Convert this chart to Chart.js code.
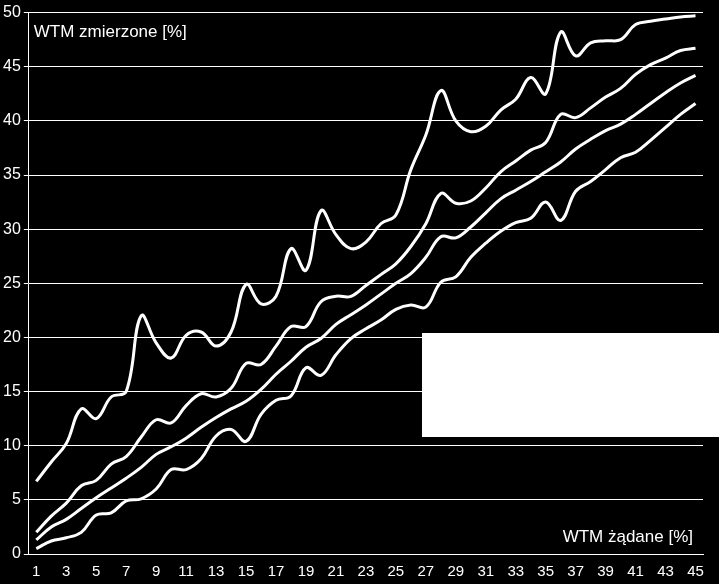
<!DOCTYPE html>
<html>
<head>
<meta charset="utf-8">
<script src="https://cdn.jsdelivr.net/npm/chart.js@4"></script>
<style>
  html, body { margin: 0; padding: 0; background: #000; }
  #wrap { width: 719px; height: 584px; }
</style>
</head>
<body>
<div id="wrap"><canvas id="chart"></canvas></div>
<script>
const categories = Array.from({ length: 45 }, (_, i) => String(i + 1));
const seriesTop = [6.7, 8.5, 10.2, 13.4, 12.5, 14.5, 15, 22, 19.5, 18.1, 20.2, 20.5, 19.2, 20.5, 24.9, 23.1, 23.8, 28.2, 26.2, 31.7, 29.5, 28.2, 28.8, 30.5, 31.3, 35.5, 38.7, 42.8, 40, 39, 39.5, 41, 42, 44, 42.5, 48.2, 46, 47.2, 47.4, 47.5, 48.9, 49.2, 49.4, 49.6, 49.7];
const seriesUpper = [2, 3.5, 4.7, 6.3, 6.8, 8.3, 9, 10.8, 12.4, 12.1, 13.7, 14.8, 14.5, 15.3, 17.6, 17.5, 19.2, 21, 21, 23.3, 23.8, 23.8, 24.8, 25.8, 26.8, 28.4, 30.5, 33.3, 32.4, 32.6, 33.8, 35.3, 36.3, 37.3, 38, 40.6, 40.3, 41.2, 42.2, 43, 44.3, 45.2, 45.8, 46.5, 46.7];
const seriesMid = [1.3, 2.5, 3.2, 4.2, 5.2, 6.1, 7, 8, 9.2, 9.9, 10.7, 11.7, 12.6, 13.4, 14.1, 15.2, 16.6, 17.8, 19.1, 19.9, 21.2, 22.1, 23, 24, 25, 25.9, 27.4, 29.3, 29.2, 30.2, 31.5, 32.8, 33.6, 34.4, 35.3, 36.2, 37.4, 38.3, 39.1, 39.7, 40.6, 41.6, 42.6, 43.5, 44.2];
const seriesLow = [0.5, 1.2, 1.5, 2, 3.6, 3.8, 4.9, 5.1, 6, 7.8, 7.8, 8.8, 10.9, 11.5, 10.4, 12.9, 14.2, 14.6, 17.2, 16.5, 18.4, 19.9, 20.8, 21.6, 22.6, 23, 22.8, 25.1, 25.6, 27.4, 28.7, 29.8, 30.6, 31, 32.5, 30.8, 33.5, 34.4, 35.5, 36.6, 37.1, 38.2, 39.4, 40.6, 41.6];
const yTitle = 'WTM zmierzone [%]';
const xTitle = 'WTM żądane [%]';

const FONT = 'Liberation Sans, Arial, sans-serif';

// axis titles inside plot + white box over the lower right
const overlay = {
  id: 'overlay',
  afterDraw(chart) {
    const { ctx, chartArea } = chart;
    ctx.save();
    ctx.fillStyle = '#fff';
    ctx.font = '17px ' + FONT;
    ctx.textBaseline = 'alphabetic';
    ctx.textAlign = 'left';
    ctx.fillText(yTitle, chartArea.left + 5, chartArea.top + 24);
    ctx.textAlign = 'right';
    ctx.fillText(xTitle, chartArea.right - 10, chartArea.bottom - 12);
    ctx.fillRect(422, 333, 297, 104);
    ctx.restore();
  }
};

function line(data) {
  return {
    data,
    borderColor: '#fff',
    borderWidth: 3,
    pointRadius: 0,
    tension: 0.4,
    fill: false
  };
}

new Chart(document.getElementById('chart'), {
  type: 'line',
  data: {
    labels: categories,
    datasets: [line(seriesTop), line(seriesUpper), line(seriesMid), line(seriesLow)]
  },
  options: {
    responsive: true,
    maintainAspectRatio: false,
    animation: false,
    layout: { padding: { top: 10, right: 16, left: 0, bottom: 0 } },
    plugins: { legend: { display: false }, tooltip: { enabled: false } },
    scales: {
      x: {
        offset: true,
        grid: { display: false, drawOnChartArea: false, drawTicks: true, color: '#fff', tickLength: 6, offset: false },
        border: { color: '#fff', width: 1 },
        ticks: {
          color: '#fff',
          font: { family: FONT, size: 15 },
          autoSkip: false,
          maxRotation: 0,
          callback: (v, i) => (i % 2 === 0 ? categories[i] : '')
        }
      },
      y: {
        min: 0,
        max: 50,
        grid: { color: '#fff', lineWidth: 1, tickLength: 5 },
        border: { color: '#fff', width: 1 },
        ticks: {
          stepSize: 5,
          color: '#fff',
          font: { family: FONT, size: 16 },
          padding: 3
        }
      }
    }
  },
  plugins: [overlay]
});
</script>
</body>
</html>
